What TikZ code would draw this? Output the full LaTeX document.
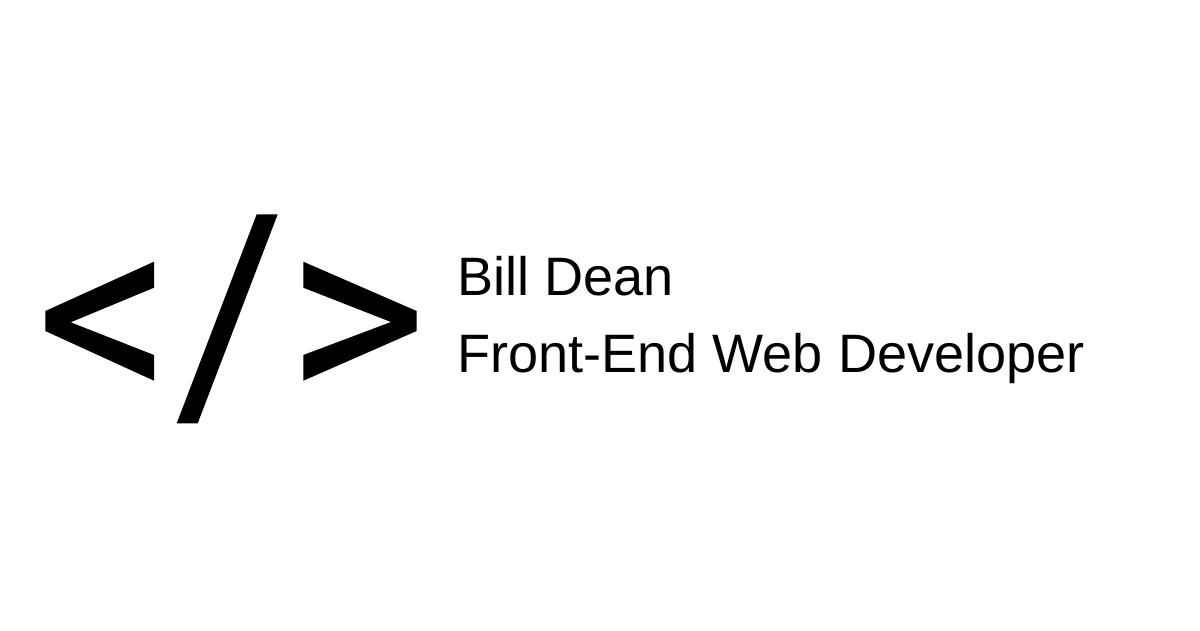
\documentclass[tikz,border=0pt]{standalone}
\usepackage{fontspec}
\setmainfont{Liberation Sans}
\tikzset{glyph/.style={fill=black,draw=none},label/.style={anchor=base west,inner sep=0pt,font=\fontsize{54.1}{60}\selectfont}}
\begin{document}
\begin{tikzpicture}[x=1pt,y=-1pt]
\useasboundingbox[fill=white] (0,0) rectangle (1200,630);
\fill[glyph] (154,261.7) -- (45.3,311) -- (45.3,331) -- (154,380.7) -- (154,355) -- (70.7,322.3) -- (154,287.7) -- cycle;
\fill[glyph] (256.7,214.3) -- (277.7,214.3) -- (197.7,423.3) -- (176.7,423.3) -- cycle;
\fill[glyph] (303.3,261.7) -- (416.7,311) -- (416.7,331) -- (303.3,380.7) -- (303.3,355) -- (391,322) -- (303.3,287.7) -- cycle;
\node[label] (name) at (457,295) {Bill Dean};
\node[label] (role) at (457,372.5) {Front-End Web Developer};
\end{tikzpicture}
\end{document}
